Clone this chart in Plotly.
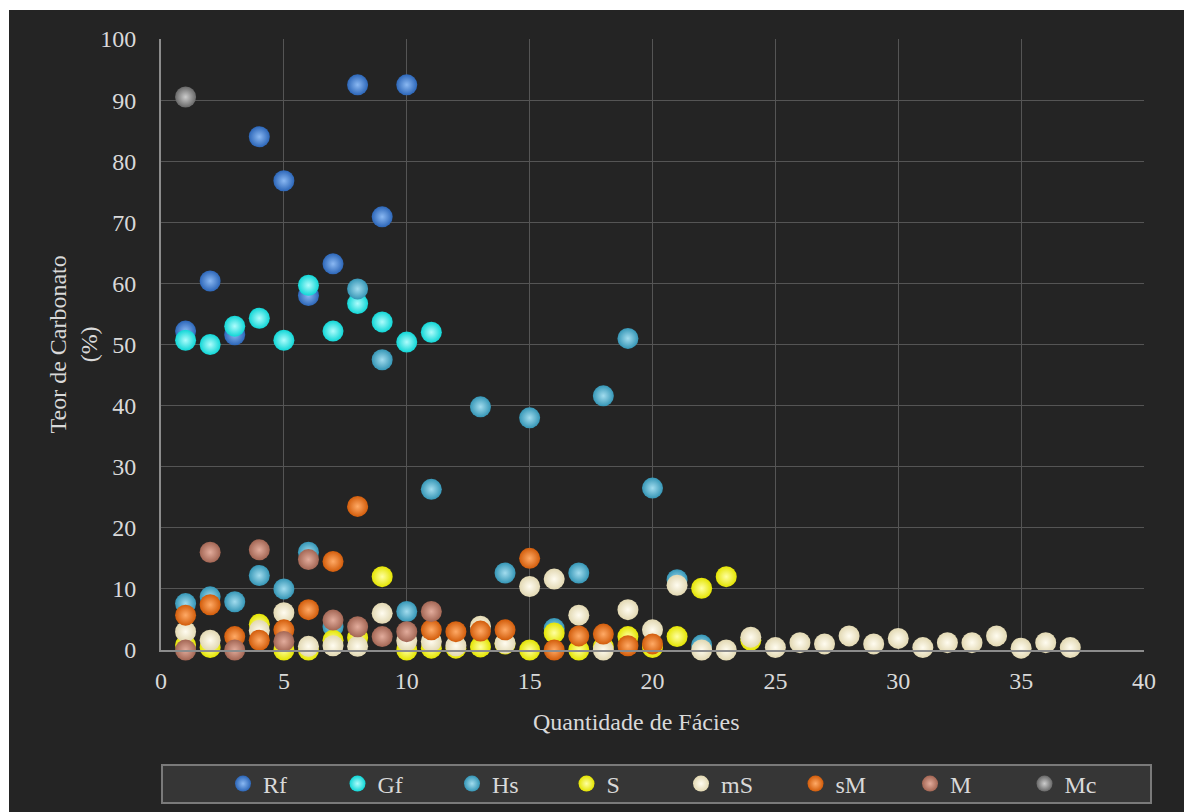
import plotly.graph_objects as go

# Teor de carbonato por quantidade de fácies, uma série por tipo de fácies
rf_x = [1, 2, 3, 4, 5, 6, 7, 8, 9, 10]
rf_y = [52.2, 60.4, 51.6, 84.0, 76.8, 58.0, 63.2, 92.5, 70.9, 92.5]

gf_x = [1, 2, 3, 4, 5, 6, 7, 8, 9, 10, 11]
gf_y = [50.7, 50.0, 53.0, 54.3, 50.7, 59.7, 52.2, 56.7, 53.7, 50.4, 52.0]

hs_x = [1, 2, 3, 4, 5, 6, 7, 8, 9, 10, 11, 13, 14, 15, 16, 17, 18, 19, 20, 21, 22]
hs_y = [7.6, 8.7, 7.9, 12.2, 10.0, 16.0, 3.8, 59.1, 47.5, 6.3, 26.3, 39.8, 12.6,
        38.0, 3.5, 12.6, 41.6, 51.0, 26.5, 11.5, 0.8]

s_x = [1, 2, 4, 5, 6, 7, 8, 9, 10, 11, 12, 13, 14, 15, 16, 17, 18, 19, 20, 21, 22, 23, 24]
s_y = [0.8, 0.4, 4.2, 0.0, 0.0, 1.6, 2.0, 12.0, 0.0, 0.3, 0.3, 0.5, 1.0, 0.0, 2.8,
       0.0, 0.5, 2.2, 0.4, 2.2, 10.1, 12.0, 1.6]

ms_x = [1, 2, 4, 5, 6, 7, 8, 9, 10, 11, 12, 13, 14, 15, 16, 17, 18, 19, 20, 21, 22,
        23, 24, 25, 26, 27, 28, 29, 30, 31, 32, 33, 34, 35, 36, 37]
ms_y = [3.0, 1.6, 3.2, 6.1, 0.6, 0.7, 0.6, 6.0, 1.5, 1.4, 0.7, 3.9, 1.1, 10.4, 11.6,
        5.7, 0.0, 6.6, 3.3, 10.6, 0.0, 0.0, 2.1, 0.4, 1.2, 1.0, 2.3, 1.0, 1.9, 0.4,
        1.2, 1.2, 2.3, 0.3, 1.2, 0.4]

sm_x = [1, 2, 3, 4, 5, 6, 7, 8, 11, 12, 13, 14, 15, 16, 17, 18, 19, 20]
sm_y = [5.7, 7.4, 2.2, 1.6, 3.3, 6.6, 14.5, 23.5, 3.3, 3.0, 3.1, 3.3, 15.0, 0.0,
        2.3, 2.6, 0.7, 1.0]

m_x = [1, 2, 3, 4, 5, 6, 7, 8, 9, 10, 11]
m_y = [0.0, 16.0, 0.0, 16.4, 1.4, 14.8, 4.9, 3.8, 2.2, 3.0, 6.3]

mc_x = [1]
mc_y = [90.5]

series = [
    ("Rf", rf_x, rf_y, "#2c66b8", "#8ab8f2"),
    ("Gf", gf_x, gf_y, "#0fd6d6", "#aefcfc"),
    ("Hs", hs_x, hs_y, "#3596b6", "#a2dcee"),
    ("S", s_x, s_y, "#e4e400", "#ffffa0"),
    ("mS", ms_x, ms_y, "#e2d8b2", "#fffcf0"),
    ("sM", sm_x, sm_y, "#d25c0a", "#ffaa66"),
    ("M", m_x, m_y, "#a36654", "#e2ac9c"),
    ("Mc", mc_x, mc_y, "#686868", "#cccccc"),
]

FONT = "Liberation Serif"
TXT = "#d9d9d9"
FS = 24

fig = go.Figure()
for name, xs, ys, edge, center in series:
    fig.add_trace(go.Scatter(
        x=xs, y=ys, mode="markers", name=name, cliponaxis=False,
        marker=dict(size=21, color=edge,
                    gradient=dict(type="radial", color=center),
                    line=dict(width=0)),
    ))

L, R, T, B = 161, 40, 39, 162
W, H = 1184, 812
pw, ph = W - L - R, H - T - B

shapes = [
    # dark chart panel (white page edge on top and left)
    dict(type="rect", xref="paper", yref="paper", layer="below",
         x0=(9 - L) / pw, x1=1.2, y0=-0.4, y1=(H - B - 10) / ph,
         fillcolor="#242424", line=dict(width=0)),
    # legend frame
    dict(type="rect", xref="paper", yref="paper", layer="below",
         x0=(162 - L) / pw, x1=(1151 - L) / pw,
         y0=(H - B - 803) / ph, y1=(H - B - 765) / ph,
         fillcolor="#363636", line=dict(color="#7a7a7a", width=2)),
]

annotations = [
    dict(text="Quantidade de Fácies", xref="paper", yref="paper",
         x=(636 - L) / pw, y=(H - B - 722) / ph,
         xanchor="center", yanchor="middle", showarrow=False,
         font=dict(family=FONT, size=FS, color=TXT)),
    dict(text="Teor de Carbonato<br>(%)", xref="paper", yref="paper",
         x=(73 - L) / pw, y=0.5, textangle=-90,
         xanchor="center", yanchor="middle", showarrow=False,
         font=dict(family=FONT, size=FS, color=TXT)),
]

fig.update_layout(
    width=W, height=H,
    margin=dict(l=L, r=R, t=T, b=B, autoexpand=False),
    paper_bgcolor="white",
    plot_bgcolor="rgba(0,0,0,0)",
    font=dict(family=FONT, color=TXT, size=FS),
    shapes=shapes,
    annotations=annotations,
    showlegend=True,
    legend=dict(
        orientation="h", x=(223 - L) / pw, y=(H - B - 784) / ph,
        xanchor="left", yanchor="middle",
        bgcolor="rgba(0,0,0,0)", borderwidth=0,
        font=dict(family=FONT, size=FS, color=TXT),
        entrywidth=69.5, entrywidthmode="pixels",
        itemsizing="trace",
    ),
    xaxis=dict(
        range=[0, 40], dtick=5, tick0=0,
        showgrid=True, gridcolor="#555555", gridwidth=1,
        showline=True, linecolor="#8c8c8c", linewidth=2,
        zeroline=False, ticks="", ticklabelstandoff=8,
        tickfont=dict(family=FONT, size=FS, color=TXT),
    ),
    yaxis=dict(
        range=[0, 100], dtick=10, tick0=0,
        showgrid=True, gridcolor="#555555", gridwidth=1,
        showline=True, linecolor="#8c8c8c", linewidth=2,
        zeroline=False, ticks="", ticklabelstandoff=18,
        tickfont=dict(family=FONT, size=FS, color=TXT),
    ),
)

fig.write_html("out.html")
